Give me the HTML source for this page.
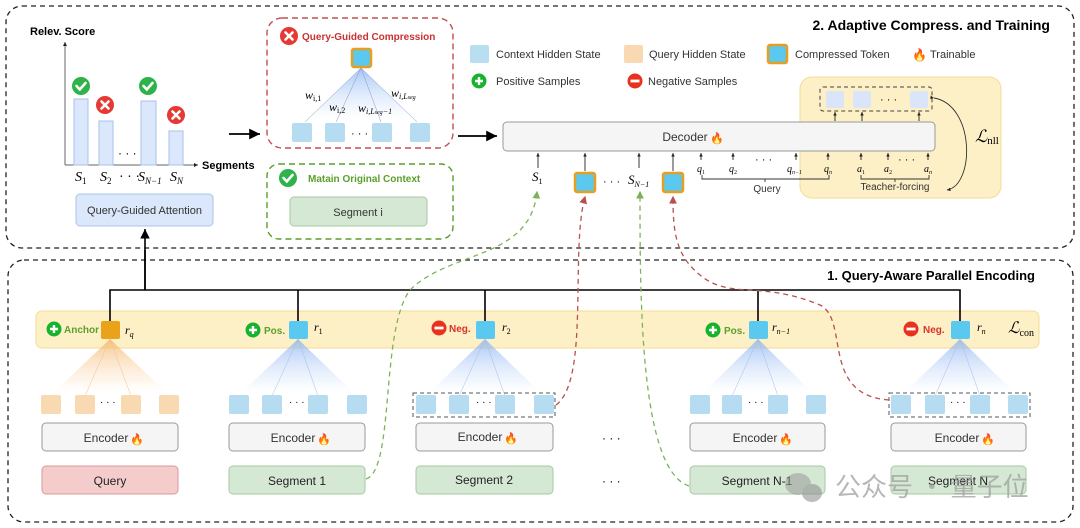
<!DOCTYPE html>
<html><head><meta charset="utf-8"><style>
html,body{margin:0;padding:0;background:#fff;}
svg{display:block;font-family:"Liberation Sans","Noto Sans CJK SC",sans-serif;}
.m{font-family:"Liberation Serif",serif;font-style:italic;}
</style></head><body>
<svg width="1080" height="528" viewBox="0 0 1080 528" xmlns="http://www.w3.org/2000/svg">
<defs>
<linearGradient id="gb" x1="0" y1="0" x2="0" y2="1"><stop offset="0" stop-color="#7fabf0" stop-opacity="0.7"/><stop offset="0.75" stop-color="#d6e4fb" stop-opacity="0.3"/><stop offset="1" stop-color="#ffffff" stop-opacity="0"/></linearGradient>
<linearGradient id="go" x1="0" y1="0" x2="0" y2="1"><stop offset="0" stop-color="#f2ae5a" stop-opacity="0.7"/><stop offset="0.75" stop-color="#fde3c4" stop-opacity="0.3"/><stop offset="1" stop-color="#ffffff" stop-opacity="0"/></linearGradient>
<marker id="ah" markerWidth="8" markerHeight="8" refX="6" refY="3" orient="auto"><path d="M0,0 L6,3 L0,6 Z" fill="#000"/></marker>
<marker id="ahs" markerWidth="6" markerHeight="6" refX="4" refY="2" orient="auto"><path d="M0,0 L4,2 L0,4 Z" fill="#222"/></marker>
<marker id="ahg" markerWidth="8" markerHeight="8" refX="5" refY="3" orient="auto"><path d="M0,0 L6,3 L0,6 Z" fill="#7cb35a"/></marker>
<marker id="ahr" markerWidth="8" markerHeight="8" refX="5" refY="3" orient="auto"><path d="M0,0 L6,3 L0,6 Z" fill="#b5524e"/></marker>
<g id="chk"><circle r="9" fill="#2eb24a"/><path d="M-4.5,0 L-1.2,3.5 L4.5,-3" stroke="#fff" stroke-width="2.6" fill="none" stroke-linecap="round"/></g>
<g id="xx"><circle r="9" fill="#e53935"/><path d="M-3.5,-3.5 L3.5,3.5 M3.5,-3.5 L-3.5,3.5" stroke="#fff" stroke-width="2.6" stroke-linecap="round"/></g>
<g id="pl"><circle r="7.5" fill="#17b32e"/><path d="M-4,0 H4 M0,-4 V4" stroke="#fff" stroke-width="2.4"/></g>
<g id="mi"><circle r="7.5" fill="#e8321e"/><path d="M-4.5,0 H4.5" stroke="#fff" stroke-width="2.8"/></g>
</defs>

<rect x="6" y="6" width="1068" height="242" rx="16" fill="none" stroke="#222" stroke-width="1.3" stroke-dasharray="5,4"/>
<rect x="8" y="260" width="1065" height="262" rx="16" fill="none" stroke="#222" stroke-width="1.3" stroke-dasharray="5,4"/>

<text x="30" y="35" font-size="11" font-weight="bold">Relev. Score</text>
<line x1="65" y1="165" x2="65" y2="42" stroke="#666" stroke-width="1" marker-end="url(#ahs)"/>
<line x1="65" y1="165" x2="198" y2="165" stroke="#666" stroke-width="1" marker-end="url(#ahs)"/>
<text x="202" y="169" font-size="11" font-weight="bold">Segments</text>
<g fill="#dbe7fb" stroke="#a7c2ee" stroke-width="1">
<rect x="74" y="99" width="14" height="66"/><rect x="99" y="121" width="14" height="44"/><rect x="141" y="101" width="15" height="64"/><rect x="169" y="131" width="14" height="34"/>
</g>
<use href="#chk" x="81" y="86"/><use href="#xx" x="105" y="105"/><use href="#chk" x="148" y="86"/><use href="#xx" x="176" y="115"/>
<text x="118" y="157" font-size="12">· · ·</text>
<g class="m" font-size="14"><text x="75" y="181">S<tspan font-size="9" dy="3" font-style="normal">1</tspan></text><text x="100" y="181">S<tspan font-size="9" dy="3" font-style="normal">2</tspan></text><text x="119" y="181" font-style="normal">· · ·</text><text x="138" y="181">S<tspan font-size="9" dy="3">N−1</tspan></text><text x="170" y="181">S<tspan font-size="9" dy="3">N</tspan></text></g>
<rect x="76" y="194" width="137" height="32" rx="4" fill="#dbe7fa" stroke="#a9c4ea"/>
<text x="144.5" y="214" font-size="11" text-anchor="middle" fill="#333">Query-Guided Attention</text>
<line x1="145" y1="290" x2="145" y2="229" stroke="#000" stroke-width="1.6" marker-end="url(#ah)"/>
<line x1="229" y1="134" x2="260" y2="134" stroke="#000" stroke-width="1.8" marker-end="url(#ah)"/>

<rect x="267" y="18" width="186" height="130" rx="15" fill="none" stroke="#c0504d" stroke-width="1.4" stroke-dasharray="6,4"/>
<use href="#xx" x="289" y="36"/>
<text x="302" y="40" font-size="10" font-weight="bold" fill="#c83232">Query-Guided Compression</text>
<path d="M361,68 L305,122 L417,122 Z" fill="url(#gb)"/>
<g stroke="#7d9ccc" stroke-width="0.5"><line x1="361" y1="68" x2="305" y2="122"/><line x1="361" y1="68" x2="336" y2="122"/><line x1="361" y1="68" x2="381" y2="122"/><line x1="361" y1="68" x2="417" y2="122"/></g>
<rect x="352" y="49" width="19" height="18" rx="2" fill="#5bc8ef" stroke="#e6a01e" stroke-width="2.5"/>
<g fill="#b5dcf0"><rect x="292" y="123" width="20" height="19" rx="2"/><rect x="325" y="123" width="20" height="19" rx="2"/><rect x="372" y="123" width="20" height="19" rx="2"/><rect x="410" y="123" width="20" height="19" rx="2"/></g>
<text x="351" y="137" font-size="11">· · ·</text>
<g class="m" font-size="12"><text x="305" y="99">w<tspan font-size="8" dy="2" font-style="normal">i,1</tspan></text><text x="329" y="111">w<tspan font-size="8" dy="2" font-style="normal">i,2</tspan></text><text x="358" y="112">w<tspan font-size="8" dy="2">i,L<tspan font-size="6">seg</tspan>−1</tspan></text><text x="391" y="97">w<tspan font-size="8" dy="2">i,L<tspan font-size="6">seg</tspan></tspan></text></g>

<rect x="267" y="164" width="186" height="75" rx="12" fill="none" stroke="#5a9e2a" stroke-width="1.4" stroke-dasharray="6,4"/>
<use href="#chk" x="288" y="178"/>
<text x="308" y="182" font-size="10" font-weight="bold" fill="#5aa02c">Matain Original Context</text>
<rect x="290" y="197" width="137" height="29" rx="4" fill="#d5e8d4" stroke="#a6c9a2"/>
<text x="358" y="216" font-size="11" text-anchor="middle" fill="#333">Segment i</text>
<line x1="458" y1="136" x2="497" y2="136" stroke="#000" stroke-width="1.8" marker-end="url(#ah)"/>

<text x="1050" y="30" font-size="14" font-weight="bold" text-anchor="end">2. Adaptive Compress. and Training</text>
<rect x="470" y="45" width="19" height="18" rx="2" fill="#b9def2"/>
<text x="496" y="58" font-size="11" fill="#333">Context Hidden State</text>
<rect x="624" y="45" width="19" height="18" rx="2" fill="#f9d9b2"/>
<text x="649" y="58" font-size="11" fill="#333">Query Hidden State</text>
<rect x="768" y="45" width="19" height="18" rx="2" fill="#5bc8ef" stroke="#e6a01e" stroke-width="2.5"/>
<text x="795" y="58" font-size="11" fill="#333">Compressed Token</text>
<text x="912" y="59" font-size="12">🔥</text>
<text x="930" y="58" font-size="11" fill="#333">Trainable</text>
<use href="#pl" x="479" y="81"/><text x="496" y="85" font-size="11" fill="#333">Positive Samples</text>
<use href="#mi" x="635" y="81"/><text x="648" y="85" font-size="11" fill="#333">Negative Samples</text>

<rect x="800" y="77" width="201" height="121" rx="12" fill="#fdf0c6" stroke="#f3dc95"/>
<rect x="820" y="87" width="112" height="24" rx="3" fill="none" stroke="#444" stroke-dasharray="4,3"/>
<g fill="#dbe5fa"><rect x="826" y="91" width="18" height="17" rx="2"/><rect x="853" y="91" width="18" height="17" rx="2"/><rect x="910" y="91" width="18" height="17" rx="2"/></g>
<text x="880" y="103" font-size="11">· · ·</text>
<text class="m" x="975" y="142" font-size="17" font-style="italic">ℒ<tspan font-size="11" font-style="normal" dy="2">nll</tspan></text>
<path d="M934,98 C975,105 975,185 947,190" fill="none" stroke="#333" stroke-width="0.9" marker-end="url(#ahs)" marker-start="url(#ahs)"/>

<rect x="503" y="122" width="432" height="29" rx="4" fill="#f5f5f5" stroke="#999"/>
<text x="685" y="141" font-size="12" text-anchor="middle" fill="#333">Decoder</text><text x="710" y="142" font-size="11">🔥</text>
<g stroke="#222" stroke-width="0.9" marker-end="url(#ahs)">
<line x1="835" y1="121" x2="835" y2="112"/><line x1="862" y1="121" x2="862" y2="112"/><line x1="919" y1="121" x2="919" y2="112"/>
<line x1="538" y1="168" x2="538" y2="153"/><line x1="585" y1="171" x2="585" y2="153"/><line x1="639" y1="168" x2="639" y2="153"/><line x1="673" y1="171" x2="673" y2="153"/>
<line x1="701" y1="160" x2="701" y2="153"/><line x1="733" y1="160" x2="733" y2="153"/><line x1="796" y1="160" x2="796" y2="153"/><line x1="828" y1="160" x2="828" y2="153"/>
<line x1="861" y1="160" x2="861" y2="153"/><line x1="888" y1="160" x2="888" y2="153"/><line x1="928" y1="160" x2="928" y2="153"/>
</g>
<g class="m" font-size="13"><text x="532" y="181">S<tspan font-size="8" dy="3" font-style="normal">1</tspan></text><text x="628" y="184">S<tspan font-size="8" dy="3">N−1</tspan></text></g>
<text x="603" y="185" font-size="11">· · ·</text>
<rect x="575" y="173" width="20" height="19" rx="2" fill="#5bc8ef" stroke="#e6a01e" stroke-width="2.5"/>
<rect x="663" y="173" width="20" height="19" rx="2" fill="#5bc8ef" stroke="#e6a01e" stroke-width="2.5"/>
<g class="m" font-size="10"><text x="697" y="172">q<tspan font-size="6" dy="2" font-style="normal">1</tspan></text><text x="729" y="172">q<tspan font-size="6" dy="2" font-style="normal">2</tspan></text><text x="787" y="172">q<tspan font-size="6" dy="2">n−1</tspan></text><text x="824" y="172">q<tspan font-size="6" dy="2">n</tspan></text>
<text x="857" y="172">a<tspan font-size="6" dy="2" font-style="normal">1</tspan></text><text x="884" y="172">a<tspan font-size="6" dy="2" font-style="normal">2</tspan></text><text x="924" y="172">a<tspan font-size="6" dy="2">n</tspan></text></g>
<text x="755" y="163" font-size="11">· · ·</text><text x="898" y="163" font-size="11">· · ·</text>
<path d="M702,175 V179 H829 V175 M765,179 V182" fill="none" stroke="#333" stroke-width="0.9"/>
<path d="M861,175 V179 H929 V175 M895,179 V182" fill="none" stroke="#333" stroke-width="0.9"/>
<text x="767" y="192" font-size="10" text-anchor="middle" fill="#333">Query</text>
<text x="895" y="190" font-size="10" text-anchor="middle" fill="#333">Teacher-forcing</text>

<text x="1035" y="280" font-size="13" font-weight="bold" text-anchor="end">1. Query-Aware Parallel Encoding</text>
<rect x="36" y="311" width="1003" height="37" rx="6" fill="#fdf0c6" stroke="#f3dc95"/>
<g stroke="#000" stroke-width="1.6" fill="none"><path d="M145,250 V290"/><path d="M110,321 V290 H960 V321"/><path d="M298,290 V321 M485,290 V321 M758,290 V321"/></g>
<text class="m" x="1008" y="333" font-size="16">ℒ<tspan font-size="10" font-style="normal" dy="3">con</tspan></text>

<path d="M110,339 L50,396 L170,396 Z" fill="url(#go)"/>
<g stroke="#edc196" stroke-width="0.5"><line x1="110" y1="339" x2="85" y2="396"/><line x1="110" y1="339" x2="131" y2="396"/></g>
<g fill="url(#gb)"><path d="M298,339 L238,396 L357,396 Z"/><path d="M485,339 L426,396 L544,396 Z"/><path d="M758,339 L700,396 L816,396 Z"/><path d="M960,339 L901,396 L1018,396 Z"/></g>
<g stroke="#a2bde6" stroke-width="0.5"><line x1="298" y1="339" x2="272" y2="396"/><line x1="298" y1="339" x2="318" y2="396"/><line x1="485" y1="339" x2="459" y2="396"/><line x1="485" y1="339" x2="505" y2="396"/><line x1="758" y1="339" x2="732" y2="396"/><line x1="758" y1="339" x2="778" y2="396"/><line x1="960" y1="339" x2="935" y2="396"/><line x1="960" y1="339" x2="980" y2="396"/></g>

<use href="#pl" x="54" y="329"/><text x="64" y="333" font-size="10" font-weight="bold" fill="#5aa02c">Anchor</text>
<rect x="101" y="321" width="19" height="18" rx="2" fill="#eaa21a"/><text class="m" x="125" y="334" font-size="12">r<tspan font-size="8" dy="3">q</tspan></text>
<use href="#pl" x="253" y="330"/><text x="264" y="334" font-size="10" font-weight="bold" fill="#5aa02c">Pos.</text>
<rect x="289" y="321" width="19" height="18" rx="2" fill="#5bc8ef"/><text class="m" x="314" y="331" font-size="12">r<tspan font-size="8" dy="3" font-style="normal">1</tspan></text>
<use href="#mi" x="439" y="328"/><text x="449" y="332" font-size="10" font-weight="bold" fill="#d9322a">Neg.</text>
<rect x="476" y="321" width="19" height="18" rx="2" fill="#5bc8ef"/><text class="m" x="502" y="331" font-size="12">r<tspan font-size="8" dy="3" font-style="normal">2</tspan></text>
<use href="#pl" x="713" y="330"/><text x="724" y="334" font-size="10" font-weight="bold" fill="#5aa02c">Pos.</text>
<rect x="749" y="321" width="19" height="18" rx="2" fill="#5bc8ef"/><text class="m" x="772" y="331" font-size="12">r<tspan font-size="8" dy="3">n−1</tspan></text>
<use href="#mi" x="911" y="329"/><text x="923" y="333" font-size="10" font-weight="bold" fill="#d9322a">Neg.</text>
<rect x="951" y="321" width="19" height="18" rx="2" fill="#5bc8ef"/><text class="m" x="977" y="331" font-size="12">r<tspan font-size="8" dy="3">n</tspan></text>

<g fill="#f9d9b2"><rect x="41" y="395" width="20" height="19" rx="2"/><rect x="75" y="395" width="20" height="19" rx="2"/><rect x="121" y="395" width="20" height="19" rx="2"/><rect x="159" y="395" width="20" height="19" rx="2"/></g>
<g fill="#b5dcf0">
<rect x="229" y="395" width="20" height="19" rx="2"/><rect x="262" y="395" width="20" height="19" rx="2"/><rect x="308" y="395" width="20" height="19" rx="2"/><rect x="347" y="395" width="20" height="19" rx="2"/>
<rect x="416" y="395" width="20" height="19" rx="2"/><rect x="449" y="395" width="20" height="19" rx="2"/><rect x="495" y="395" width="20" height="19" rx="2"/><rect x="534" y="395" width="20" height="19" rx="2"/>
<rect x="690" y="395" width="20" height="19" rx="2"/><rect x="722" y="395" width="20" height="19" rx="2"/><rect x="768" y="395" width="20" height="19" rx="2"/><rect x="806" y="395" width="20" height="19" rx="2"/>
<rect x="891" y="395" width="20" height="19" rx="2"/><rect x="925" y="395" width="20" height="19" rx="2"/><rect x="970" y="395" width="20" height="19" rx="2"/><rect x="1008" y="395" width="20" height="19" rx="2"/>
</g>
<g font-size="10"><text x="100" y="405">· · ·</text><text x="289" y="405">· · ·</text><text x="476" y="405">· · ·</text><text x="748" y="405">· · ·</text><text x="950" y="405">· · ·</text></g>
<rect x="413" y="393" width="142" height="24" fill="none" stroke="#555" stroke-dasharray="4,3"/>
<rect x="889" y="393" width="141" height="24" fill="none" stroke="#555" stroke-dasharray="4,3"/>

<g fill="#f5f5f5" stroke="#999"><rect x="42" y="423" width="136" height="28" rx="4"/><rect x="229" y="423" width="136" height="28" rx="4"/><rect x="416" y="423" width="137" height="28" rx="4"/><rect x="690" y="423" width="135" height="28" rx="4"/><rect x="891" y="423" width="135" height="28" rx="4"/></g>
<g font-size="12" fill="#333" text-anchor="middle"><text x="106" y="442">Encoder</text><text x="293" y="442">Encoder</text><text x="480" y="441">Encoder</text><text x="755" y="442">Encoder</text><text x="957" y="442">Encoder</text></g>
<g font-size="11"><text x="130" y="443">🔥</text><text x="317" y="443">🔥</text><text x="504" y="442">🔥</text><text x="779" y="443">🔥</text><text x="981" y="443">🔥</text></g>
<rect x="42" y="466" width="136" height="28" rx="4" fill="#f4cccc" stroke="#d99a9a"/>
<g fill="#d5e8d4" stroke="#a6c9a2"><rect x="229" y="466" width="136" height="28" rx="4"/><rect x="416" y="466" width="137" height="28" rx="4"/><rect x="690" y="466" width="135" height="28" rx="4"/><rect x="891" y="466" width="135" height="28" rx="4"/></g>
<g font-size="12" fill="#222" text-anchor="middle"><text x="110" y="485">Query</text><text x="297" y="485">Segment 1</text><text x="484" y="484">Segment 2</text><text x="757" y="485">Segment N-1</text><text x="958" y="485">Segment N</text></g>
<g font-size="12"><text x="602" y="442">· · ·</text><text x="602" y="485">· · ·</text></g>

<g fill="none" stroke-width="1.3" stroke-dasharray="5,4">
<path d="M366,479 C395,470 380,330 410,290 C450,250 530,260 537,192" stroke="#7cb35a" marker-end="url(#ahg)"/>
<path d="M556,405 C590,380 570,250 585,197" stroke="#b5524e" marker-end="url(#ahr)"/>
<path d="M689,486 C640,470 640,300 640,192" stroke="#7cb35a" marker-end="url(#ahg)"/>
<path d="M889,400 C820,395 850,320 820,305 C760,280 730,300 700,275 C675,255 673,230 673,197" stroke="#b5524e" marker-end="url(#ahr)"/>
</g>

<g opacity="0.55"><ellipse cx="798" cy="484" rx="13" ry="11" fill="#9a9a9a"/><ellipse cx="812" cy="493" rx="10" ry="9" fill="#8a8a8a"/></g>
<text x="835" y="496" font-size="26" fill="#9a9a9a" opacity="0.7" font-family="'Noto Sans CJK SC',sans-serif">公众号 · 量子位</text>
</svg>
</body></html>
